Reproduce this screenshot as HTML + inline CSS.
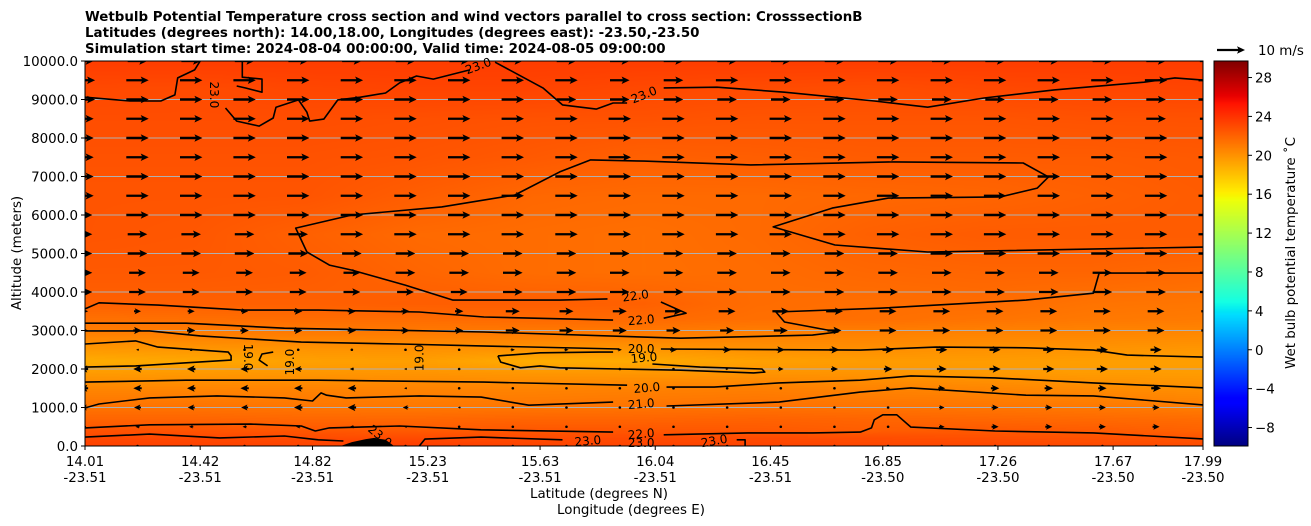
<!DOCTYPE html>
<html><head><meta charset="utf-8">
<style>
html,body{margin:0;padding:0;background:#fff;}
#wrap{position:relative;width:1311px;height:526px;overflow:hidden;font-family:"DejaVu Sans","Liberation Sans",sans-serif;}
#field{position:absolute;left:85px;top:61px;}
#svg{position:absolute;left:0;top:0;}
text{font-family:"DejaVu Sans","Liberation Sans",sans-serif;}
</style></head>
<body>
<div id="wrap">
<canvas id="field" width="1118" height="385"></canvas>
<svg id="svg" width="1311" height="526" xmlns="http://www.w3.org/2000/svg">
<defs><clipPath id="plotclip"><rect x="85" y="61" width="1118" height="385"/></clipPath></defs>
<g font-weight="bold" font-size="13.4">
<text x="85" y="21">Wetbulb Potential Temperature cross section and wind vectors parallel to cross section: CrosssectionB</text>
<text x="85" y="37">Latitudes (degrees north): 14.00,18.00, Longitudes (degrees east): -23.50,-23.50</text>
<text x="85" y="53">Simulation start time: 2024-08-04 00:00:00, Valid time: 2024-08-05 09:00:00</text>
</g>
<g id="grid"></g>
<g id="quiver" clip-path="url(#plotclip)"></g>
<g id="contours" clip-path="url(#plotclip)"></g>
<g id="clabels" font-size="12"></g>
<rect x="85" y="61" width="1118" height="385" fill="none" stroke="#000" stroke-width="1"/>
<g id="yaxis" font-size="13.4"></g>
<g id="xaxis" font-size="13.4"></g>
<text x="21" y="253" font-size="13.4" text-anchor="middle" transform="rotate(-90 21 253)">Altitude (meters)</text>
<text x="599" y="498" font-size="13.4" text-anchor="middle">Latitude (degrees N)</text>
<text x="631" y="514" font-size="13.4" text-anchor="middle">Longitude (degrees E)</text>
<g id="cbar"></g>
<g id="cbaxis" font-size="13.4"></g>
<text x="1295" y="253" font-size="13.4" text-anchor="middle" transform="rotate(-90 1295 253)">Wet bulb potential temperature ˚C</text>
<g id="qkey"></g>
<text x="1258" y="55" font-size="13.4">10 m/s</text>
</svg>
</div>
<script>
// ---------- data ----------
const tempLats = [14.0,14.4,14.8,15.2,15.6,16.0,16.4,16.8,17.2,17.6,18.0];
const tempAlts = [0,200,400,700,1000,1500,1900,2200,2500,2900,3300,3700,4500,5500,6500,7500,8500,9300,10000];
const temps = [
 [23.4,23.4,23.3,23.6,23.3,23.3,23.3,23.2,23.2,23.1,23.0],
 [23.1,23.1,23.0,23.0,23.0,23.0,23.0,22.9,22.8,22.7,22.6],
 [22.7,22.6,22.5,22.3,22.5,22.5,22.4,22.2,22.4,22.3,22.0],
 [21.9,21.9,21.8,21.8,21.9,21.9,22.0,21.9,21.8,21.7,21.6],
 [21.3,21.3,21.2,21.1,21.2,21.3,21.4,21.3,21.2,21.1,20.9],
 [20.5,20.5,20.6,20.6,20.6,20.7,20.8,20.6,20.5,20.3,20.1],
 [19.6,19.7,19.8,19.9,19.8,19.8,19.9,19.9,19.7,19.6,19.6],
 [18.9,19.1,19.4,19.5,18.9,19.0,19.4,19.6,19.6,19.5,19.5],
 [19.7,19.8,19.9,20.0,19.9,19.8,20.0,20.1,20.0,19.9,19.8],
 [20.7,20.8,20.9,20.9,20.9,20.9,20.7,20.7,20.6,20.5,20.4],
 [21.4,21.5,21.6,21.6,21.7,21.7,21.5,21.5,21.3,21.1,21.0],
 [22.1,22.1,22.1,22.2,22.2,22.1,21.6,21.5,21.6,21.3,21.2],
 [22.4,22.4,22.3,21.9,21.6,21.5,21.6,21.8,21.9,21.9,21.7],
 [22.6,22.5,22.1,21.7,21.6,21.5,21.7,22.1,22.3,22.3,22.3],
 [22.6,22.6,22.6,22.2,21.8,21.7,21.7,21.8,21.9,22.1,22.3],
 [22.7,22.7,22.7,22.6,22.4,22.1,22.2,22.3,22.3,22.3,22.4],
 [22.9,22.9,22.9,22.8,22.7,22.7,22.6,22.6,22.6,22.7,22.7],
 [23.1,23.0,23.2,23.3,23.3,23.1,23.0,22.9,23.1,23.2,23.3],
 [23.6,23.6,23.6,23.6,23.6,23.6,23.6,23.6,23.6,23.6,23.6]
];
const windLats = [14.006,14.197,14.388,14.578,14.769,14.960,15.151,15.342,15.533,15.724,15.914,16.105,16.296,16.487,16.678,16.869,17.060,17.250,17.441,17.632,17.823,18.014];
const windAlts = [10000,9500,9000,8500,8000,7500,7000,6500,6000,5500,5000,4500,4000,3500,3000,2500,2000,1500,1000,500,0];
const windU = [
 [7,7,7,7,7,7,7,7,7,7,7,7,7,7,7,7,7,7,7,7,7,7],
 [8,8,8,8,8,8,8,8,8,8,7,7,8,8,8,8,8,8,8,8,8,8],
 [8,8,8,8,8,8,8,8,8,7,7,7,7,7,7,7,7,7,7,7,7,8],
 [7,8,8,8,8,8,8,8,8,8,8,8,8,8,8,8,8,8,8,8,7,7],
 [7,8,8,8,8,8,8,8,8,8,8,8,8,8,8,8,8,8,8,8,8,8],
 [7,8,8,8,8,8,8,8,8,8,8,8,8,8,8,8,8,8,8,8,8,8],
 [7,8,8,8,8,8,8,8,8,8,8,8,8,8,8,8,8,8,8,8,8,8],
 [7,8,8,8,8,8,8,8,8,8,8,8,8,8,8,8,8,8,8,8,8,8],
 [6,8,8,8,8,8,8,8,8,8,8,8,8,8,8,8,8,8,8,8,8,8],
 [6,7,7,7,7,8,8,8,8,8,8,8,8,8,8,8,8,8,8,8,8,8],
 [6,7,7,7,7,7,7,7,7,7,7,7,7,7,7,7,8,8,8,8,8,8],
 [6,6,6,6,6,6,7,7,7,7,7,7,7,7,7,7,7,7,7,7,7,7],
 [6,6,6,6,6,6,6,6,7,7,7,7,7,7,7,7,7,7,7,7,7,7],
 [3,2.5,2.5,2.5,3,3,3,3,5,5,5,6,6,6,6,6,6,6,6,6,6,6],
 [3,3,3,3,3,3,3,3,5,5,5,5,5,5,5,6,6,6,6,6,6,6],
 [-1,-1,-0.5,0,0,0.3,0.3,0.3,1.5,1.5,1.5,2.5,3,3,3.5,4,4,4,4,4,4,4],
 [-3,-3,-3,-3,-2.5,-1.5,-1,-0.5,0,0,0,0.5,1,2,2.5,3,3.5,4,4,4,4,4],
 [-3,-3,-3,-3,-3,-3,-1,0,0,0,0,0,0.3,0.5,0.5,1.5,2.5,3,3,3,3.5,3.5],
 [-2.5,-2.5,-2.5,-2.5,-3,-3,-2,-1,0,0,0,0,0,0,0.2,0.2,2,2.5,2.5,2.5,2.5,2.5],
 [-1.5,-1.5,-1.5,-1.5,-1.5,-1.5,-1,-0.5,-0.3,-0.3,-0.3,-0.3,-0.3,-0.3,-0.3,0.3,2,2.5,2.5,2.5,2.5,2.5],
 [0,0,0,0,0,0,0,0,0,0,0,0,0,0,0,0,0,0,0.3,0.3,0.3,0.3]
];
const contourLines = [
 [[14.01,9060],[14.17,8960],[14.28,8960],[14.33,9120],[14.34,9560],[14.40,9770],[14.42,10000]],
 [[14.57,10000],[14.57,9580],[14.64,9530],[14.64,9190],[14.58,9300],[14.55,9350]],
 [[14.51,8780],[14.55,8440],[14.63,8310],[14.68,8520],[14.69,8800],[14.77,8990],[14.80,8670],[14.81,8440],[14.86,8490],[14.91,8990],[14.99,9060],[15.08,9170],[15.13,9430],[15.19,9610],[15.25,9530],[15.32,9660],[15.38,9770]],
 [[15.47,9970],[15.64,9300],[15.71,8860],[15.83,8750],[15.89,8910],[15.94,8910]],
 [[16.07,9300],[16.26,9320],[16.50,9190],[16.82,8960],[17.01,8800],[17.21,9040],[17.46,9250],[17.78,9450],[17.89,9560],[18.00,9500]],
 [[14.01,3560],[14.06,3720],[14.27,3660],[14.57,3530],[14.84,3530],[15.20,3480],[15.43,3350],[15.89,3270]],
 [[16.07,3320],[16.15,3450],[16.06,3740]],
 [[15.87,3820],[15.70,3790],[15.32,3790],[15.15,4180],[14.96,4570],[14.88,4700],[14.80,5040],[14.76,5660],[14.96,6000],[15.28,6210],[15.54,6520],[15.70,7120],[15.81,7430],[16.00,7400],[16.38,7300],[16.89,7380],[17.35,7350],[17.44,6990],[17.40,6700],[17.27,6470],[16.87,6440],[16.67,6180],[16.46,5690],[16.68,5220],[17.01,5040],[18.00,5170]],
 [[14.01,3190],[14.37,3190],[14.72,3060],[15.08,3010],[15.43,2960],[16.13,2800],[16.60,2880],[16.69,2960],[16.50,3220],[16.47,3480],[16.84,3580],[17.36,3790],[17.60,3970],[17.62,4490],[17.99,4490]],
 [[14.01,2990],[14.24,2990],[14.42,2860],[14.78,2700],[15.13,2650],[15.42,2600],[15.91,2520]],
 [[16.06,2520],[16.77,2490],[17.04,2570],[17.36,2550],[17.60,2490],[17.72,2360],[18.00,2310]],
 [[14.01,2650],[14.19,2730],[14.27,2570],[14.52,2440],[14.53,2340],[14.53,2230],[14.37,2160],[14.19,2080],[14.01,2050]],
 [[14.68,2440],[14.64,2390],[14.63,2230],[14.66,2080]],
 [[15.48,2340],[15.63,2420],[15.84,2440],[15.89,2440]],
 [[16.03,2130],[16.20,2050],[16.42,2000],[16.43,1920],[16.39,1900],[16.13,1970],[15.91,2000],[15.70,2030],[15.63,2080],[15.56,2030],[15.49,2180],[15.48,2340]],
 [[14.01,1660],[14.37,1710],[14.84,1710],[15.43,1660],[15.94,1580]],
 [[16.08,1530],[16.25,1530],[16.48,1640],[16.77,1710],[16.95,1820],[17.25,1770],[17.60,1640],[18.00,1510]],
 [[14.01,990],[14.06,1090],[14.24,1250],[14.48,1300],[14.72,1250],[14.82,1170],[14.85,1380],[14.87,1320],[14.94,1250],[15.20,1300],[15.42,1270],[15.59,1060],[15.89,1140]],
 [[16.08,1040],[16.48,1140],[16.77,1400],[16.95,1510],[17.36,1320],[17.60,1300],[18.00,1060]],
 [[14.01,470],[14.24,550],[14.60,570],[14.78,520],[14.83,390],[14.88,470],[15.13,520],[15.42,420],[15.89,360]],
 [[16.07,290],[16.37,340],[16.60,340],[16.77,360],[16.81,470],[16.82,680],[16.85,810],[16.90,810],[16.95,490],[17.25,390],[17.60,340],[18.00,180]],
 [[14.01,230],[14.24,310],[14.49,210],[14.72,260],[14.84,160],[14.93,130]],
 [[15.20,0],[15.22,180],[15.42,230],[15.71,160]],
 [[16.33,160],[16.36,160],[16.36,0]]
];
const blob = [[14.92,0],[14.96,100],[15.01,180],[15.04,210],[15.08,160],[15.11,0]];
const labelText = ["23.0","23.0","23.0","22.0","22.0","20.0","19.0","19.0","19.0","19.0","20.0","21.0","22.0","23.0","23.0","23.0","23.0"];
const labelLat  = [14.47,15.41,16.00,15.97,15.99,15.99,14.59,14.74,15.20,16.00,16.01,15.99,15.99,15.06,15.80,15.99,16.25];
const labelAlt  = [9120,9870,9120,3900,3270,2520,2310,2180,2290,2290,1510,1090,310,260,130,80,130];
const labelRot  = [90,-20,-22,-8,-5,0,90,-90,-90,-5,-5,-5,-5,40,-5,0,-10];
const yTicks = [0,1000,2000,3000,4000,5000,6000,7000,8000,9000,10000];
const xTickLats = [14.01,14.42,14.82,15.23,15.63,16.04,16.45,16.85,17.26,17.67,17.99];
const xTickLons = ["-23.51","-23.51","-23.51","-23.51","-23.51","-23.51","-23.51","-23.50","-23.50","-23.50","-23.50"];
const cbTicks = [-8,-4,0,4,8,12,16,20,24,28];
const vmin = -9.9, vmax = 29.7;
const keySpeed = 10;

// ---------- scales ----------
const X0=85,X1=1203,Y0=446,Y1=61,LAT0=14.01,LAT1=17.99,ALT0=0,ALT1=10000;
const xs = lat => X0 + (lat-LAT0)/(LAT1-LAT0)*(X1-X0);
const ys = alt => Y0 - (alt-ALT0)/(ALT1-ALT0)*(Y0-Y1);
const pxPerMs = 2.8;
const NS="http://www.w3.org/2000/svg";
function mk(tag,attrs,parent){const e=document.createElementNS(NS,tag);for(const k in attrs)e.setAttribute(k,attrs[k]);parent.appendChild(e);return e;}

const JR=[[0,0],[0.35,0],[0.66,1],[0.89,1],[1,0.5]];
const JG=[[0,0],[0.125,0],[0.375,1],[0.64,1],[0.91,0],[1,0]];
const JB=[[0,0.5],[0.11,1],[0.34,1],[0.65,0],[1,0]];
function seg(p,x){if(x<=p[0][0])return p[0][1];for(let i=1;i<p.length;i++){if(x<=p[i][0]){const t=(x-p[i-1][0])/(p[i][0]-p[i-1][0]);return p[i-1][1]+t*(p[i][1]-p[i-1][1]);}}return p[p.length-1][1];}
function jet(v){const x=Math.max(0,Math.min(1,(v-vmin)/(vmax-vmin)));return [seg(JR,x)*255,seg(JG,x)*255,seg(JB,x)*255];}

// ---------- field ----------
(function(){
 const cv=document.getElementById('field');const ctx=cv.getContext('2d');
 const W=cv.width,H=cv.height;const img=ctx.createImageData(W,H);
 function idx(arr,v){for(let i=0;i<arr.length-1;i++){if(v<=arr[i+1])return i;}return arr.length-2;}
 for(let py=0;py<H;py++){
  const alt=(Y0-(Y1+py+0.5))/(Y0-Y1)*(ALT1-ALT0)+ALT0;
  const j=idx(tempAlts,alt);const ty=Math.max(0,Math.min(1,(alt-tempAlts[j])/(tempAlts[j+1]-tempAlts[j])));
  for(let px=0;px<W;px++){
   const lat=LAT0+(px+0.5)/(X1-X0)*(LAT1-LAT0);
   const i=idx(tempLats,lat);const tx=Math.max(0,Math.min(1,(lat-tempLats[i])/(tempLats[i+1]-tempLats[i])));
   const v=(temps[j][i]*(1-tx)+temps[j][i+1]*tx)*(1-ty)+(temps[j+1][i]*(1-tx)+temps[j+1][i+1]*tx)*ty;
   const c=jet(v);const o=(py*W+px)*4;
   img.data[o]=c[0];img.data[o+1]=c[1];img.data[o+2]=c[2];img.data[o+3]=255;
  }
 }
 ctx.putImageData(img,0,0);
})();

// ---------- grid + axes ----------
const grid=document.getElementById('grid'), yax=document.getElementById('yaxis'), xax=document.getElementById('xaxis');
yTicks.forEach(t=>{
 const y=ys(t);
 if(t>0&&t<10000){const g=mk('line',{x1:X0,x2:X1,y1:y,y2:y,stroke:'#b0b0b0','stroke-width':1},grid);
 
 }
 const tk=mk('line',{x1:X0-4,x2:X0,y1:y,y2:y,stroke:'#000'},yax);
 
 
 const tx=mk('text',{x:X0-7,y:y+5,'text-anchor':'end'},yax);tx.textContent=t.toFixed(1);
 
 
});
xTickLats.forEach((lat,i)=>{
 const x=xs(lat);
 const tk=mk('line',{x1:x,x2:x,y1:Y0,y2:Y0+4,stroke:'#000'},xax);
 
 
 const t1=mk('text',{x:x,y:466,'text-anchor':'middle'},xax);t1.textContent=lat.toFixed(2);
 
 
 const t2=mk('text',{x:x,y:482,'text-anchor':'middle'},xax);t2.textContent=xTickLons[i];
 
 
});

// ---------- quiver ----------
const qg=document.getElementById('quiver');
function arrow(cx,cy,L,parent){
 const a=Math.abs(L);
 if(a<1.5){return mk('circle',{cx:cx,cy:cy,r:1.3,fill:'#000'},parent);}
 const d=L>0?1:-1;let w=2.3,hw=7.5,hl=8;
 if(a<hl*1.1){const s=a/(hl*1.1);w=Math.max(1.2,w*s);hw=Math.max(2.5,hw*s);hl=hl*s;}
 const t=cx-d*a/2, tip=cx+d*a/2, b2=tip-d*hl, b=tip-d*hl*0.85;
 const pts=[[t,cy-w/2],[b,cy-w/2],[b2,cy-hw/2],[tip,cy],[b2,cy+hw/2],[b,cy+w/2],[t,cy+w/2]];
 return mk('polygon',{points:pts.map(p=>p[0].toFixed(1)+','+p[1].toFixed(1)).join(' '),fill:'#000'},parent);
}
windAlts.forEach((alt,r)=>{
 windLats.forEach((lat,c)=>{
  const el=arrow(xs(lat),ys(alt),windU[r][c]*pxPerMs,qg);
  
  
 });
});

// ---------- contours ----------
const cg=document.getElementById('contours');
contourLines.forEach((ln,i)=>{
 const p=mk('polyline',{points:ln.map(q=>xs(q[0]).toFixed(1)+','+ys(q[1]).toFixed(1)).join(' '),fill:'none',stroke:'#000','stroke-width':1.6,'stroke-linejoin':'round'},cg);
 
 
});
const bl=mk('polygon',{points:blob.map(q=>xs(q[0]).toFixed(1)+','+ys(q[1]).toFixed(1)).join(' '),fill:'#000'},cg);


const lg=document.getElementById('clabels');
labelText.forEach((s,i)=>{
 const x=xs(labelLat[i]),y=ys(labelAlt[i]);
 const t=mk('text',{x:x,y:y+4,'text-anchor':'middle',transform:'rotate('+labelRot[i]+' '+x+' '+y+')'},lg);
 t.textContent=s;
 
 
});

// ---------- colorbar ----------
const cb=document.getElementById('cbar'), cba=document.getElementById('cbaxis');
const CBX=1214,CBW=34;
for(let i=0;i<385;i++){
 const v=vmin+(i+0.5)/385*(vmax-vmin);const c=jet(v);
 const r=mk('rect',{x:CBX,y:Y0-i-1,width:CBW,height:1.2,fill:'rgb('+c.map(Math.round).join(',')+')'},cb);
 
 
}
mk('rect',{x:CBX,y:Y1,width:CBW,height:385,fill:'none',stroke:'#000'},cb);
cbTicks.forEach(t=>{
 const y=Y0-(t-vmin)/(vmax-vmin)*385;
 const tk=mk('line',{x1:CBX+CBW,x2:CBX+CBW+4,y1:y,y2:y,stroke:'#000'},cba);
 
 
 const tx=mk('text',{x:CBX+CBW+7,y:y+5},cba);tx.textContent=t<0?'\u2212'+Math.abs(t):String(t);
 
 
});
const kg=document.getElementById('qkey');
const ka=arrow(1217+keySpeed*pxPerMs/2,50,keySpeed*pxPerMs,kg);


</script>
</body></html>
